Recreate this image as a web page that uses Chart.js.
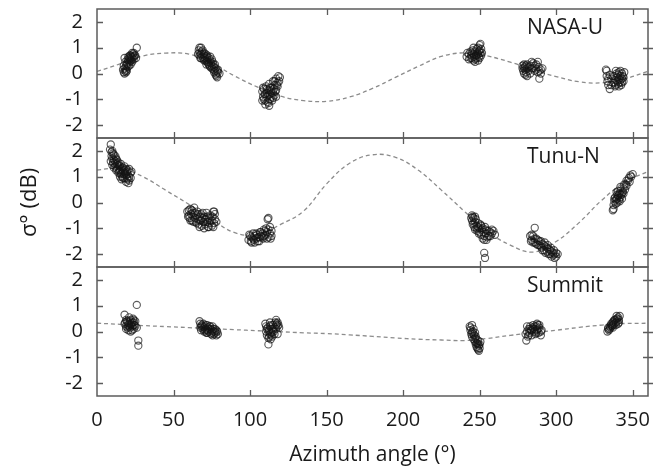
<!DOCTYPE html>
<html><head><meta charset="utf-8">
<script src="https://cdn.jsdelivr.net/npm/chart.js@4.4.1/dist/chart.umd.min.js"></script>
<style>
html,body{margin:0;padding:0;background:#fff;}
#wrap{position:relative;width:671px;height:470px;overflow:hidden;background:#fff;}
canvas{position:absolute;left:0;}
</style></head><body>
<div id="wrap">
<canvas id="c1" width="671" height="145" style="top:0px;width:671px;height:145px"></canvas>
<canvas id="c2" width="671" height="143" style="top:131px;width:671px;height:143px"></canvas>
<canvas id="c3" width="671" height="210" style="top:260px;width:671px;height:210px"></canvas>
</div>
<script>
// ---- data ----
const siteNames = ['NASA-U', 'Tunu-N', 'Summit'];
const yTitle = 'σ° (dB)';
const xTitle = 'Azimuth angle (°)';
const xTickVals = [0, 50, 100, 150, 200, 250, 300, 350];
const yTickVals = [-2, -1, 0, 1, 2];

// fitted curve sample azimuths (deg)
const curveAz = [0,15,30,45,60,75,90,105,120,135,150,165,180,195,210,225,240,255,270,285,300,315,330,345,360];
const nasaCurve   = [0.08,0.37,0.68,0.79,0.75,0.40,-0.10,-0.53,-0.88,-1.05,-1.08,-0.91,-0.58,-0.15,0.28,0.66,0.80,0.68,0.44,0.14,-0.12,-0.32,-0.36,-0.20,0.08];
const tunuCurve   = [1.26,1.32,1.00,0.47,-0.07,-0.65,-1.17,-1.24,-0.85,-0.33,0.72,1.52,1.85,1.75,1.25,0.48,-0.34,-1.12,-1.65,-1.92,-1.51,-0.78,0.10,0.80,1.20];
const summitCurve = [0.32,0.28,0.23,0.19,0.15,0.11,0.07,0.03,-0.01,-0.05,-0.08,-0.13,-0.19,-0.25,-0.30,-0.33,-0.35,-0.27,-0.15,-0.05,0.05,0.16,0.25,0.31,0.32];

// observations [azimuth, sigma0]
const nasaPts = [
 [17,0.15],[17.5,0.05],[18,0.0],[18,0.2],[18.5,0.1],[19,0.3],[19,0.15],[19.5,0.4],[20,0.35],[20,0.25],[20.5,0.5],[21,0.45],[21,0.6],[21.5,0.55],[22,0.7],[22,0.5],[22.5,0.65],[23,0.6],[23.5,0.75],[24,0.55],[24,0.65],[25,0.7],[25.5,0.6],[26,1.0],[18,0.6],
 [17.5,0.3],[18.5,0.45],[19.5,0.1],[20,0.55],[21,0.3],[22,0.35],[23,0.8],[23,0.45],[24,0.8],[24.5,0.7],[19,0.05],[20.5,0.65],[22.5,0.5],[21.5,0.7],
 [66.5,0.9],[67,0.7],[67,0.8],[67.5,0.6],[68,1.0],[68,0.75],[68.5,0.85],[69,0.65],[69.5,0.55],[70,0.8],[70,0.7],[70.5,0.6],[71,0.5],[71.5,0.65],[72,0.45],[72,0.55],[72.5,0.4],[73,0.6],[73,0.35],[73.5,0.3],[74,0.5],[74.5,0.4],[75,0.2],[75,0.3],[75.5,0.45],[76,0.15],[76.5,0.25],[77,0.1],[77.5,0.2],[78,0.0],[78,-0.1],[78.5,0.1],
 [66,0.75],[67,1.0],[68,0.6],[69,0.9],[69.5,0.75],[70,0.5],[71,0.75],[71.5,0.35],[72,0.7],[73,0.45],[74,0.25],[74,0.65],[75,0.55],[76,0.35],[76.5,0.05],[77,0.35],[77.5,-0.05],[78.5,-0.15],[79,0.05],[79,0.15],[80,0.0],
 [108,-0.7],[108.5,-0.9],[109,-1.0],[109,-0.6],[110,-0.8],[110,-1.05],[110.5,-0.5],[111,-0.75],[111,-0.9],[112,-1.15],[112,-0.65],[112.5,-0.4],[113,-0.8],[113,-1.0],[113.5,-0.7],[114,-0.55],[114,-0.9],[115,-0.3],[115,-0.75],[115.5,-0.6],[116,-0.85],[116,-0.45],[117,-0.2],[117,-0.65],[118,-0.5],[118.5,-0.1],[118,-0.35],
 [108,-1.05],[108.5,-0.55],[109.5,-0.8],[110,-1.2],[111,-0.6],[111.5,-1.1],[112,-0.85],[112.5,-1.25],[113,-0.55],[114,-0.75],[114.5,-1.05],[115,-0.95],[116,-0.3],[116.5,-0.7],[117.5,-0.45],[119,-0.3],[119.5,-0.15],[117,-0.9],
 [241.5,0.65],[243,0.75],[244,0.85],[244.5,0.7],[245,0.6],[245.5,0.9],[246,0.5],[246,0.75],[246.5,0.65],[247,0.45],[247,0.85],[247.5,0.7],[248,0.95],[248,0.6],[248.5,0.8],[249,0.75],[249,1.0],[249.5,0.65],[250,0.9],[250,1.1],[250.5,0.8],[251,0.7],
 [242,0.8],[243,0.55],[244,0.6],[245,0.8],[246,1.0],[247,0.55],[248,0.7],[249,0.5],[249.5,0.85],[250,0.6],[251,0.95],[251.5,0.8],[250.5,1.15],
 [278,0.3],[278.5,0.1],[279,0.2],[279,0.0],[279.5,0.25],[280,0.15],[280,-0.05],[280.5,0.05],[281,0.2],[281,0.35],[282,0.1],[283,0.3],[284,0.45],[285,0.2],[286,0.1],[287,0.35],[288,0.05],[288.5,0.25],[289,-0.2],[290,0.15],
 [278,0.2],[279,0.35],[280,0.3],[281,-0.1],[282,0.25],[283,0.0],[284,0.2],[285,0.4],[286,0.3],[287,0.15],[288,0.45],[289,0.1],[290,0.0],[291,0.2],
 [333,0.1],[333,-0.1],[333.5,-0.3],[334,-0.45],[335,-0.6],[336,-0.2],[337,-0.35],[338,-0.1],[338.5,-0.5],[339,-0.25],[339.5,0.0],[340,-0.3],[340,-0.15],[340.5,-0.4],[341,-0.2],[341,0.05],[341.5,-0.35],[342,-0.1],[342,-0.25],[342.5,-0.45],[343,-0.2],[343,0.0],[344,-0.15],
 [332.5,0.15],[334,-0.2],[335,-0.05],[336,-0.45],[337,-0.1],[338,-0.35],[339,-0.45],[339,0.1],[340.5,-0.05],[341,-0.5],[342,0.1],[343,-0.35],[343.5,-0.1],[344,-0.3],[344.5,0.05]
];
const tunuPts = [
 [9,2.25],[9.5,1.95],[9.5,1.8],[10,2.0],[10,1.7],[10.5,1.55],[11,1.85],[11,1.65],[11.5,1.5],[12,1.6],[12,1.4],[12.5,1.7],[13,1.5],[13,1.3],[13.5,1.45],[14,1.35],[14,1.55],[14.5,1.2],[15,1.4],[15,1.25],[15.5,1.1],[16,1.3],[16,1.15],[16.5,1.0],[17,1.2],[17,1.35],[17.5,1.1],[18,1.25],[18,0.95],[18.5,1.15],[19,1.05],[19,0.8],[19.5,1.2],[20,1.1],[20,0.9],[20.5,0.75],[21,1.0],[21,1.3],[22,1.15],
 [8.5,2.05],[9,1.6],[10,1.45],[10.5,1.9],[11,1.35],[12,1.8],[12.5,1.25],[13,1.65],[14,1.15],[14.5,1.45],[15,1.0],[15.5,1.5],[16,0.9],[16.5,1.35],[17,0.95],[18,1.4],[19,1.3],[19.5,0.95],[20,1.25],[21,0.85],[22,0.95],[22.5,1.2],
 [59,-0.35],[60,-0.5],[60.5,-0.6],[61,-0.25],[61.5,-0.45],[62,-0.7],[62.5,-0.4],[63,-0.55],[63.5,-0.2],[64,-0.6],[64.5,-0.75],[65,-0.5],[65.5,-0.35],[66,-0.65],[66.5,-0.85],[67,-0.55],[67.5,-0.7],[68,-0.45],[68.5,-0.9],[69,-0.6],[69.5,-0.75],[70,-0.55],[70.5,-0.85],[71,-0.65],[71.5,-0.4],[72,-0.75],[72.5,-0.95],[73,-0.6],[73.5,-0.8],[74,-0.7],[75,-0.9],[75.5,-0.55],[76,-0.35],[76.5,-0.8],[77,-0.65],
 [59.5,-0.55],[60,-0.3],[61,-0.7],[62,-0.3],[63,-0.75],[64,-0.4],[65,-0.8],[66,-0.45],[67,-0.95],[68,-0.7],[69,-0.4],[70,-1.0],[71,-0.75],[72,-0.55],[73,-0.95],[74,-0.5],[75,-0.7],[76,-0.95],[77,-0.45],[78,-0.75],[76.5,-0.35],
 [99,-1.45],[100,-1.3],[100.5,-1.5],[101,-1.35],[102,-1.2],[102.5,-1.45],[103,-1.3],[104,-1.4],[104.5,-1.25],[105,-1.5],[106,-1.35],[106.5,-1.15],[107,-1.3],[108,-1.2],[108.5,-1.4],[109,-1.05],[110,-1.25],[110.5,-1.0],[111,-1.15],[112,-1.35],[112,-0.6],[113,-1.2],[113.5,-1.4],[114,-1.1],
 [99.5,-1.25],[101,-1.55],[102,-1.4],[103,-1.55],[104,-1.2],[105,-1.35],[106,-1.5],[107,-1.15],[108,-1.35],[109,-1.3],[110,-1.1],[111,-1.4],[112,-1.05],[113,-0.95],[114,-1.3],[111.5,-0.65],
 [245,-0.5],[245,-0.7],[245.5,-0.85],[246,-0.6],[246.5,-0.95],[247,-0.75],[247,-1.05],[247.5,-0.65],[248,-0.9],[248.5,-1.1],[249,-0.8],[249.5,-1.2],[250,-1.0],[250.5,-0.85],[251,-1.25],[251.5,-1.05],[252,-1.4],[252.5,-1.15],[253,-1.3],[253.5,-0.95],[254,-1.2],[254.5,-1.45],[255,-1.1],[256,-1.3],[257,-1.15],[258,-1.05],[253,-1.95],[253.5,-2.15],
 [244.5,-0.6],[245.5,-0.55],[246,-0.8],[247,-0.55],[248,-1.0],[249,-0.95],[250,-1.15],[251,-0.9],[252,-1.0],[253,-1.45],[254,-1.05],[255,-1.35],[256,-1.1],[257,-1.3],[258,-1.2],[259,-1.1],[260,-1.25],
 [283,-1.3],[283.5,-1.5],[284,-1.25],[285,-1.55],[286,-0.98],[286,-1.4],[287,-1.6],[288,-1.45],[289,-1.65],[290,-1.5],[290.5,-1.75],[291,-1.6],[292,-1.85],[292.5,-1.55],[293,-1.7],[294,-1.9],[294.5,-1.65],[295,-1.8],[296,-2.0],[296.5,-1.75],[297,-1.9],[298,-2.05],[298.5,-1.85],[299,-2.15],[300,-1.95],
 [284,-1.45],[285,-1.3],[286,-1.55],[287,-1.4],[288,-1.65],[289,-1.5],[290,-1.7],[291,-1.85],[292,-1.65],[293,-1.95],[294,-1.75],[295,-2.0],[296,-1.85],[297,-2.1],[298,-1.95],[299,-2.0],[300,-2.1],[301,-2.0],
 [337,-0.3],[337.5,-0.1],[338,0.05],[338.5,0.2],[339,-0.05],[339.5,0.15],[340,0.3],[340,0.0],[340.5,0.25],[341,0.1],[341.5,0.35],[342,0.2],[342,0.45],[342.5,0.3],[343,0.15],[343.5,0.4],[344,0.55],[345,0.5],[345.5,0.7],[346,0.65],[347,0.85],[348,0.8],[349,1.0],[350,1.1],
 [337.5,-0.25],[338,0.15],[339,0.1],[339.5,0.4],[340,0.15],[340.5,0.45],[341,0.3],[341.5,0.05],[342,0.6],[343,0.35],[344,0.35],[344.5,0.7],[346,0.85],[347.5,0.95],[348.5,1.05]
];
const summitPts = [
 [18,0.65],[18.5,0.35],[19,0.2],[19,0.1],[19.5,0.4],[20,0.25],[20.5,0.05],[21,0.55],[21,0.3],[21.5,0.15],[22,0.45],[22,0.0],[22.5,0.3],[23,0.2],[23.5,0.5],[24,0.1],[24,0.35],[24.5,0.25],[25,0.4],[26,1.03],[26,0.15],[27,-0.35],[27,-0.55],
 [18,0.3],[19,0.45],[20,0.15],[20,0.35],[21,0.2],[22,0.25],[23,0.35],[23,0.05],[24,0.45],[25,0.2],[24,0.25],[21.5,0.4],
 [67,0.4],[67.5,0.15],[68,0.05],[68.5,0.25],[69,0.1],[69.5,0.3],[70,0.0],[70.5,0.2],[71,0.1],[71.5,-0.05],[72,0.25],[72,0.05],[72.5,0.15],[73,0.0],[73.5,0.2],[74,0.1],[74.5,-0.1],[75,0.05],[75.5,0.2],[76,0.0],[76.5,-0.1],[77,0.1],[77.5,-0.05],[78,-0.15],[78.5,0.0],
 [67.5,0.3],[68,0.2],[69,0.2],[70,0.15],[70.5,0.05],[71,0.25],[72,-0.05],[73,0.1],[74,0.2],[75,-0.05],[76,0.1],[77,0.0],[78,0.05],[79,-0.1],[75.5,-0.15],
 [110,0.3],[110.5,0.0],[111,-0.15],[111.5,0.15],[112,-0.5],[112,-0.25],[112.5,0.05],[113,-0.1],[113,0.2],[113.5,-0.3],[114,0.1],[114,-0.05],[114.5,-0.2],[115,0.25],[115.5,0.0],[116,0.15],[116.5,0.35],[117,0.45],[117,0.1],[117.5,0.3],[118,0.2],[118,-0.1],[118.5,0.25],
 [110.5,0.2],[111,0.1],[112,0.0],[113,0.35],[114,-0.15],[115,0.05],[116,-0.1],[117,0.25],[118,0.35],[119,0.15],[113.5,0.25],[112.5,-0.2],
 [243.5,0.2],[244,0.05],[244.5,-0.1],[245,0.25],[245,-0.2],[245.5,0.0],[246,-0.3],[246,0.1],[246.5,-0.15],[247,-0.4],[247,-0.05],[247.5,-0.5],[248,-0.3],[248,-0.6],[248.5,-0.45],[249,-0.7],[249,-0.35],[249.5,-0.55],[250,-0.65],[250.5,-0.4],
 [244,0.15],[245,-0.05],[246,-0.1],[247,-0.25],[247.5,-0.2],[248,-0.45],[248.5,-0.65],[249,-0.5],[249.5,-0.75],[250,-0.5],
 [280,-0.1],[280.5,-0.35],[281,0.0],[281.5,-0.2],[282,0.1],[282.5,-0.05],[283,0.2],[283.5,0.05],[284,-0.15],[284.5,0.15],[285,0.25],[285.5,0.0],[286,0.1],[286.5,-0.1],[287,0.2],[287.5,0.05],[288,0.25],[288.5,-0.05],[289,0.15],[290,-0.15],[290.5,0.05],
 [281,0.2],[282,-0.15],[283,0.1],[284,0.05],[285,0.1],[286,0.2],[287,-0.05],[288,0.1],[289,0.25],[290,0.0],[287.5,0.3],
 [333.5,0.0],[334,0.1],[334.5,0.05],[335,0.2],[335.5,0.15],[336,0.3],[336.5,0.2],[337,0.35],[337,0.25],[337.5,0.4],[338,0.3],[338.5,0.45],[339,0.35],[339.5,0.5],[340,0.4],[340.5,0.55],[341,0.45],[341.5,0.6],
 [334,0.15],[335,0.1],[336,0.25],[337,0.15],[338,0.45],[339,0.25],[340,0.5],[341,0.35],[340.5,0.3],[339.5,0.6]
];

const xMin = 0, xMax = 360;
const yMin = -2.5, yMax = 2.5;

// ---- drawing ----
const FONT = '"Open Sans", "Noto Sans", sans-serif';
const AXIS = '#5c5c5c';
const TEXT = '#1a1a1a';

const framePlugin = {
  id: 'frame',
  afterDraw(chart, args, o) {
    const {ctx, chartArea: a, scales} = chart;
    ctx.save();
    ctx.strokeStyle = AXIS;
    ctx.lineWidth = 1.5;
    ctx.beginPath();
    ctx.moveTo(a.left, a.top); ctx.lineTo(a.right, a.top);
    ctx.lineTo(a.right, a.bottom); ctx.lineTo(a.left, a.bottom); ctx.closePath();
    ctx.stroke();
    ctx.lineWidth = 1.3;
    ctx.beginPath();
    scales.y.ticks.forEach(t => {
      const py = Math.round(scales.y.getPixelForValue(t.value)) + 0.5;
      ctx.moveTo(a.left, py); ctx.lineTo(a.left + 6, py);
      ctx.moveTo(a.right - 5, py); ctx.lineTo(a.right + 5, py);
    });
    scales.x.ticks.forEach(t => {
      if (t.value <= xMin || t.value >= xMax) return;
      const px = Math.round(scales.x.getPixelForValue(t.value)) + 0.5;
      ctx.moveTo(px, a.top); ctx.lineTo(px, a.top + 6);
      ctx.moveTo(px, a.bottom); ctx.lineTo(px, a.bottom - 6);
    });
    ctx.stroke();
    ctx.fillStyle = TEXT;
    ctx.font = '21px ' + FONT;
    ctx.textBaseline = 'middle';
    ctx.textAlign = 'left';
    ctx.fillText(o.text, a.right - 121, a.top + 19);
    ctx.restore();
  }
};

function makeChart(id, pts, curve, name, cfg) {
  const ctx = document.getElementById(id);
  return new Chart(ctx, {
    type: 'scatter',
    data: {
      datasets: [
        {
          data: pts.map(p => ({x: p[0], y: p[1]})),
          pointRadius: 3.6,
          pointBorderWidth: 1.1,
          pointBorderColor: 'rgba(20,20,20,0.7)',
          pointBackgroundColor: 'rgba(0,0,0,0)',
          showLine: false,
          order: 0
        },
        {
          data: curveAz.map((a, i) => ({x: a, y: curve[i]})),
          showLine: true,
          pointRadius: 0,
          borderColor: '#8c8c8c',
          borderWidth: 1.3,
          borderDash: [4, 3],
          tension: 0.4,
          fill: false,
          order: 1
        }
      ]
    },
    options: {
      responsive: false,
      animation: false,
      devicePixelRatio: 1,
      layout: {autoPadding: false, padding: {left: 0, right: 23, top: cfg.top, bottom: 0}},
      plugins: {legend: {display: false}, tooltip: {enabled: false}, frame: {text: name}},
      scales: {
        x: {
          type: 'linear', min: xMin, max: xMax,
          grid: {display: false, drawTicks: false},
          border: {display: false},
          ticks: {display: cfg.xLabels, autoSkip: false, color: TEXT,
                  font: {family: FONT, size: 20}, padding: 12, maxRotation: 0},
          title: {display: cfg.xLabels, text: xTitle, color: TEXT,
                  font: {family: FONT, size: 21}, padding: {top: 0, bottom: 2}},
          afterBuildTicks: s => { s.ticks = xTickVals.map(v => ({value: v})); },
          afterFit: s => { s.height = cfg.xh; s.paddingLeft = 0; s.paddingRight = 0; s.paddingTop = 0; s.paddingBottom = 0; }
        },
        y: {
          type: 'linear', min: yMin, max: yMax,
          grid: {display: false, drawTicks: false},
          border: {display: false},
          ticks: {autoSkip: false, color: TEXT,
                  font: {family: FONT, size: 20}, padding: 14},
          title: {display: cfg.yTitle, text: yTitle, color: TEXT,
                  font: {family: FONT, size: 22}, padding: {top: 17, bottom: 0}},
          afterBuildTicks: s => { s.ticks = yTickVals.map(v => ({value: v})); },
          afterFit: s => { s.width = 97; s.paddingTop = 0; s.paddingBottom = 0; s.paddingLeft = 0; s.paddingRight = 0; }
        }
      }
    },
    plugins: [framePlugin]
  });
}

makeChart('c1', nasaPts, nasaCurve, siteNames[0], {top: 9, xh: 7, xLabels: false, yTitle: false});
makeChart('c2', tunuPts, tunuCurve, siteNames[1], {top: 7, xh: 7, xLabels: false, yTitle: true});
makeChart('c3', summitPts, summitCurve, siteNames[2], {top: 7, xh: 74, xLabels: true, yTitle: false});
</script>
</body></html>
